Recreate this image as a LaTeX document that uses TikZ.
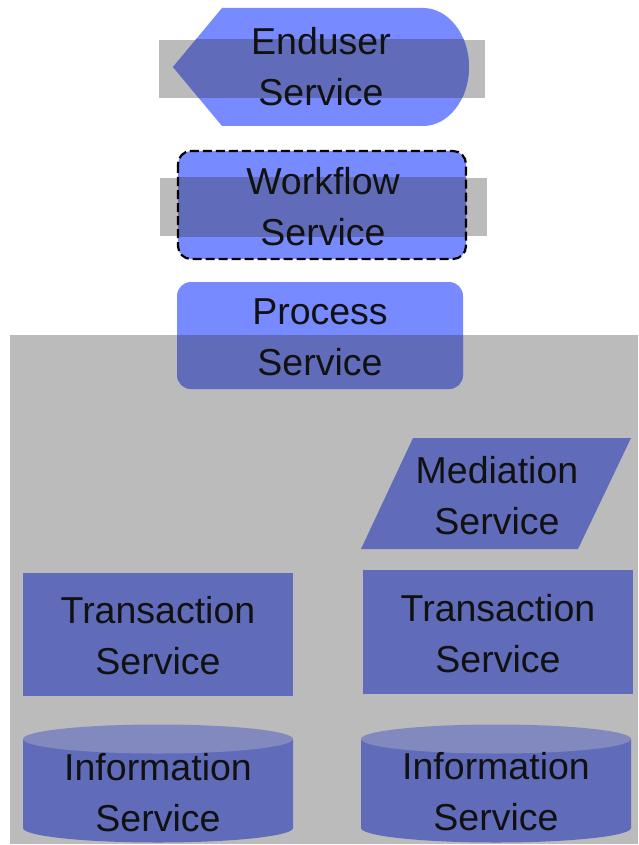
\documentclass[tikz,border=0pt]{standalone}
\usepackage{fontspec}
\setmainfont{Liberation Sans}
\definecolor{lightblue}{RGB}{120,138,255}
\definecolor{darkblue}{RGB}{96,108,185}
\definecolor{graybg}{RGB}{187,187,187}
\definecolor{cyltop}{RGB}{130,137,190}
\definecolor{txt}{RGB}{17,17,17}
\begin{document}
\begin{tikzpicture}[x=1pt,y=-1pt,
  lbl/.style={align=center,font=\fontsize{37.5}{51}\selectfont,text=txt,inner sep=0pt,anchor=base},
  endshape/.style={insert path={(173,67) -- (222,8) -- (423,8) arc (-90:90:46 and 59) -- (222,126) -- cycle}},
  flowshape/.style={insert path={[rounded corners=13pt] (178,151) rectangle (466,259)}},
  procshape/.style={insert path={[rounded corners=14pt] (177,282) rectangle (463,389)}},
  cylbody/.style={insert path={(#1-135,739) -- (#1-135,828) arc (180:0:135 and 14.5) -- (#1+135,739) -- cycle}},
  cyltopshape/.style={insert path={(#1,739) ellipse (135 and 14.5)}}]
\fill[white] (0,0) rectangle (638,845);
\useasboundingbox (0,0) rectangle (638,845);
% gray backgrounds
\fill[graybg] (159,40) rectangle (485,98);
\fill[graybg] (160,178) rectangle (487,236);
\fill[graybg] (10,335) rectangle (638,844);
% Enduser
\fill[lightblue, endshape];
\begin{scope}
  \clip (159,40) rectangle (485,98);
  \fill[darkblue, endshape];
\end{scope}
% Workflow
\fill[lightblue, flowshape];
\begin{scope}
  \clip (160,178) rectangle (487,236);
  \fill[darkblue, flowshape];
\end{scope}
\draw[black, line width=2.2pt, dash pattern=on 9pt off 4pt, flowshape];
% Process
\fill[lightblue, procshape];
\begin{scope}
  \clip (10,335) rectangle (638,844);
  \fill[darkblue, procshape];
\end{scope}
% Mediation
\fill[darkblue] (413,438) -- (631,438) -- (578,549) -- (361,549) -- cycle;
% Transactions
\fill[darkblue] (23,573) rectangle (293,696);
\fill[darkblue] (363,570) rectangle (633,694);
% Cylinders
\fill[darkblue, cylbody=158];
\fill[cyltop, cyltopshape=158];
\fill[darkblue, cylbody=496];
\fill[cyltop, cyltopshape=496];
% Labels (base anchor = baseline of the last line)
\node[lbl] (enduser) at (321,106) {Enduser\\Service};
\node[lbl] (workflow) at (323,245) {Workflow\\Service};
\node[lbl] (process) at (320,375) {Process\\Service};
\node[lbl] (mediation) at (497,534) {Mediation\\Service};
\node[lbl] (transL) at (158,674) {Transaction\\Service};
\node[lbl] (transR) at (498,672) {Transaction\\Service};
\node[lbl] (infoL) at (158,831) {Information\\Service};
\node[lbl] (infoR) at (496,830) {Information\\Service};
\end{tikzpicture}
\end{document}
